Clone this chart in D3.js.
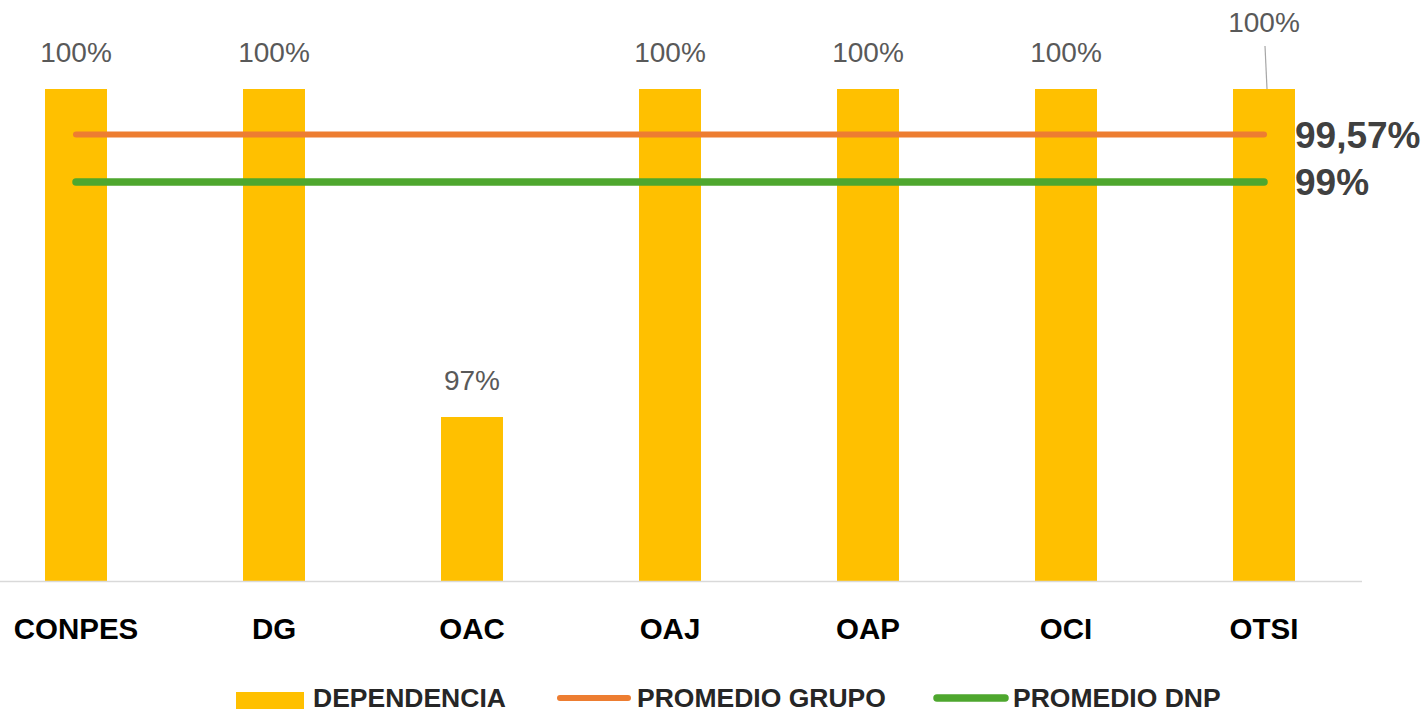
<!DOCTYPE html>
<html>
<head>
<meta charset="utf-8">
<script src="https://cdn.jsdelivr.net/npm/d3@7"></script>
<style>
  html, body { margin: 0; padding: 0; background: #fff; }
  svg { display: block; }
</style>
</head>
<body>
<svg id="chart" width="1426" height="714"></svg>
<script>
// Cumplimiento por dependencia
const categories = ["CONPES", "DG", "OAC", "OAJ", "OAP", "OCI", "OTSI"];
const dependencia = [100, 100, 97, 100, 100, 100, 100];
const promedioGrupo = 99.57;
const promedioDNP = 99;
const valueLabels = ["100%", "100%", "97%", "100%", "100%", "100%", "100%"];
const grupoLabel = "99,57%";
const dnpLabel = "99%";
const legendItems = ["DEPENDENCIA", "PROMEDIO GRUPO", "PROMEDIO DNP"];

const colors = { bar: "#FFC000", grupo: "#ED7D31", dnp: "#4EA72E" };

const svg = d3.select("#chart");

const x = d3.scaleBand()
  .domain(categories)
  .range([-23, 1363])
  .paddingInner(0.687)
  .paddingOuter(0.3435);

// primary axis (bars) and secondary axis (averages)
const yBar = d3.scaleLinear().domain([95.5, 100]).range([581, 89]);
const yLine = d3.scaleLinear().domain([94.21, 100]).range([581, 98.7]);

// bars
svg.append("g").selectAll("rect")
  .data(categories)
  .join("rect")
  .attr("x", d => x(d))
  .attr("width", x.bandwidth())
  .attr("y", (d, i) => yBar(dependencia[i]))
  .attr("height", (d, i) => yBar.range()[0] - yBar(dependencia[i]))
  .attr("fill", colors.bar);

// baseline
svg.append("line")
  .attr("x1", 0).attr("x2", 1362)
  .attr("y1", 581.5).attr("y2", 581.5)
  .attr("stroke", "#d9d9d9").attr("stroke-width", 1.5);

// category axis
const xAxis = svg.append("g")
  .attr("transform", "translate(0,581)")
  .call(d3.axisBottom(x).tickSize(0).tickPadding(37));
xAxis.select(".domain").remove();
xAxis.selectAll("text")
  .attr("font-family", "'Liberation Sans', Arial, sans-serif")
  .attr("font-weight", "bold")
  .attr("font-size", 29.5)
  .attr("fill", "#000");

// value labels
const last = categories.length - 1;
svg.append("g").selectAll("text")
  .data(categories)
  .join("text")
  .attr("x", d => x(d) + x.bandwidth() / 2)
  .attr("y", (d, i) => i === last ? 32 : yBar(dependencia[i]) - 27)
  .attr("text-anchor", "middle")
  .attr("font-family", "'Liberation Sans', Arial, sans-serif")
  .attr("font-size", 28)
  .attr("fill", "#595959")
  .text((d, i) => valueLabels[i]);

// leader line for the last label
svg.append("line")
  .attr("x1", x(categories[last]) + x.bandwidth() / 2 + 1)
  .attr("y1", 46)
  .attr("x2", x(categories[last]) + x.bandwidth() / 2 + 3)
  .attr("y2", yBar(dependencia[last]))
  .attr("stroke", "#a6a6a6").attr("stroke-width", 1.2);

// average lines
const cx0 = x(categories[0]) + x.bandwidth() / 2;
const cx1 = x(categories[last]) + x.bandwidth() / 2;
const averages = [
  { v: promedioGrupo, c: colors.grupo, w: 6, label: grupoLabel },
  { v: promedioDNP, c: colors.dnp, w: 7.5, label: dnpLabel }
];
const lineGen = d3.line().x(d => d[0]).y(d => d[1]);
averages.forEach(a => {
  svg.append("path")
    .attr("d", lineGen([[cx0, yLine(a.v)], [cx1, yLine(a.v)]]))
    .attr("stroke", a.c)
    .attr("stroke-width", a.w)
    .attr("stroke-linecap", "round")
    .attr("fill", "none");
  svg.append("text")
    .attr("x", 1295)
    .attr("y", yLine(a.v) + 13)
    .attr("font-family", "'Liberation Sans', Arial, sans-serif")
    .attr("font-weight", "bold")
    .attr("font-size", 37)
    .attr("fill", "#404040")
    .text(a.label);
});

// legend
const legend = svg.append("g").attr("font-family", "'Liberation Sans', Arial, sans-serif");
legend.append("rect")
  .attr("x", 236).attr("y", 692).attr("width", 68).attr("height", 17)
  .attr("fill", colors.bar);
legend.append("text").attr("x", 313).attr("y", 707)
  .attr("font-size", 26.5).attr("font-weight", "bold").attr("fill", "#262626")
  .text(legendItems[0]);
legend.append("line")
  .attr("x1", 560).attr("x2", 628).attr("y1", 698).attr("y2", 698)
  .attr("stroke", colors.grupo).attr("stroke-width", 6).attr("stroke-linecap", "round");
legend.append("text").attr("x", 637).attr("y", 707)
  .attr("font-size", 26.5).attr("font-weight", "bold").attr("fill", "#262626")
  .text(legendItems[1]);
legend.append("line")
  .attr("x1", 937).attr("x2", 1005).attr("y1", 698).attr("y2", 698)
  .attr("stroke", colors.dnp).attr("stroke-width", 7.5).attr("stroke-linecap", "round");
legend.append("text").attr("x", 1013).attr("y", 707)
  .attr("font-size", 26.5).attr("font-weight", "bold").attr("fill", "#262626")
  .text(legendItems[2]);
</script>
</body>
</html>
